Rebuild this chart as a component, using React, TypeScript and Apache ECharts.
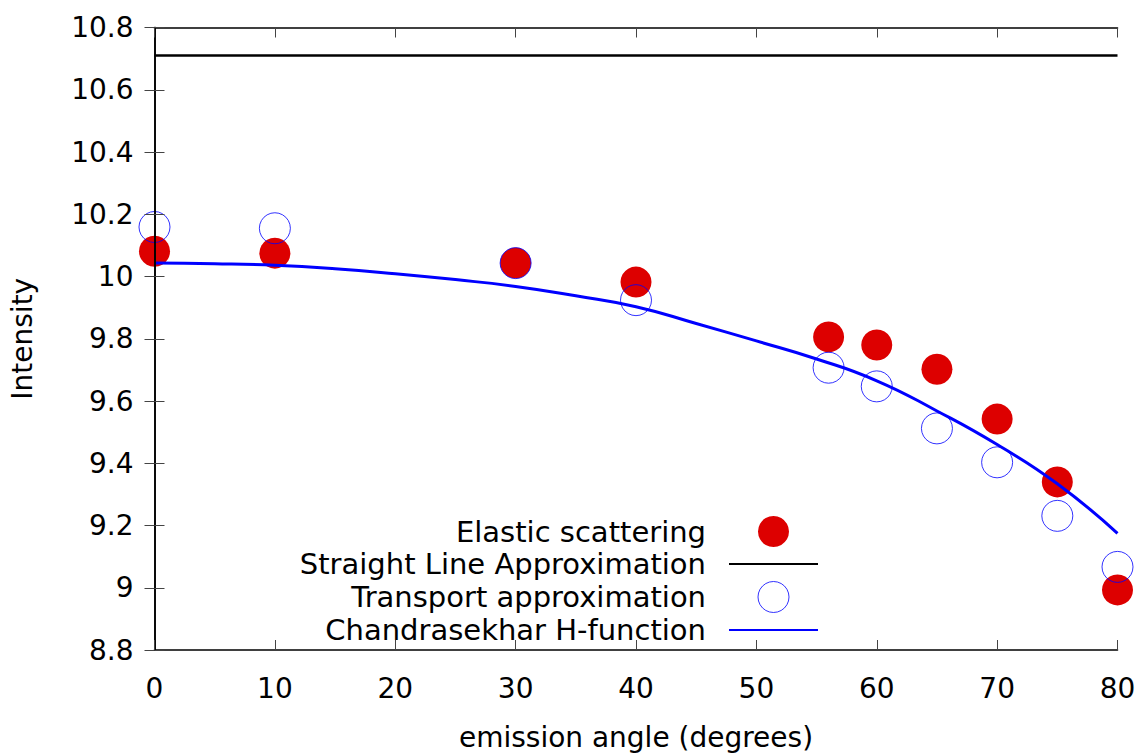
import React, { useEffect, useRef } from "react";
import * as echarts from "echarts";

const angles = [0, 10, 30, 40, 56, 60, 65, 70, 75, 80];
const elastic = [10.081, 10.075, 10.043, 9.982, 9.806, 9.78, 9.702, 9.542, 9.34, 8.993];
const transport = [10.159, 10.155, 10.043, 9.924, 9.707, 9.647, 9.512, 9.403, 9.231, 9.067];
const hAngles = [0, 5, 10, 15, 20, 25, 30, 35, 40, 45, 50, 55, 60, 65, 70, 75, 80];
const hValues = [10.043, 10.041, 10.036, 10.025, 10.009, 9.99, 9.968, 9.938, 9.903, 9.849, 9.793, 9.735, 9.665, 9.568, 9.46, 9.334, 9.175];
const straightX = [0, 80];
const straightValue = 10.71;

const FONT = "DejaVu Sans";

export default function App() {
  const ref = useRef<HTMLDivElement>(null);
  useEffect(() => {
    document.body.style.margin = "0";
    const chart = echarts.init(ref.current!, null, { renderer: "svg" });
    const tickStyle = { color: "#444", width: 1 };
    const axisLine = { show: true, lineStyle: { color: "#000", width: 1.6 } };
    chart.setOption({
      animation: false,
      backgroundColor: "#fff",
      textStyle: { fontFamily: FONT },
      grid: { left: 154.5, right: 25.5, top: 27.5, bottom: 98.5, containLabel: false },
      legend: {
        orient: "vertical",
        align: "right",
        right: 319,
        top: 511,
        itemWidth: 89,
        itemHeight: 31,
        itemGap: 2.5,
        selectedMode: false,
        textStyle: { fontFamily: FONT, fontSize: 29, color: "#000", padding: [0, 18, 0, 0] },
        data: [
          { name: "Elastic scattering" },
          { name: "Straight Line Approximation" },
          { name: "Transport approximation", itemStyle: { borderWidth: 1, borderColor: "#0000ff", color: "rgba(0,0,0,0)" } },
          { name: "Chandrasekhar H-function" },
        ],
      },
      xAxis: [
        {
          type: "value",
          min: 0,
          max: 80,
          interval: 10,
          position: "bottom",
          z: 5,
          axisLine,
          axisTick: { show: true, inside: true, length: 10, lineStyle: tickStyle },
          axisLabel: { fontFamily: FONT, fontSize: 28, color: "#000", margin: 24 },
          splitLine: { show: false },
          name: "emission angle (degrees)",
          nameLocation: "middle",
          nameGap: 73,
          nameTextStyle: { fontFamily: FONT, fontSize: 28, color: "#000" },
        },
        {
          type: "value",
          min: 0,
          max: 80,
          interval: 10,
          position: "top",
          z: 5,
          axisLine,
          axisTick: { show: true, inside: true, length: 10, lineStyle: tickStyle },
          axisLabel: { show: false },
          splitLine: { show: false },
        },
      ],
      yAxis: [
        {
          type: "value",
          min: 8.8,
          max: 10.8,
          interval: 0.2,
          position: "left",
          z: 5,
          axisLine,
          axisTick: { show: true, inside: true, length: 10, lineStyle: tickStyle },
          axisLabel: {
            fontFamily: FONT,
            fontSize: 28,
            color: "#000",
            margin: 21,
            formatter: (v: number) => String(Number(v.toFixed(1))),
          },
          splitLine: { show: false },
          name: "Intensity",
          nameLocation: "middle",
          nameGap: 118,
          nameTextStyle: { fontFamily: FONT, fontSize: 28, color: "#000" },
        },
        {
          type: "value",
          min: 8.8,
          max: 10.8,
          interval: 0.2,
          position: "right",
          z: 5,
          axisLine,
          axisTick: { show: true, inside: true, length: 10, lineStyle: tickStyle },
          axisLabel: { show: false },
          splitLine: { show: false },
        },
      ],
      series: [
        {
          name: "Elastic scattering",
          type: "scatter",
          symbol: "circle",
          symbolSize: 31,
          itemStyle: { color: "#dd0000", opacity: 1 },
          data: angles.map((a, i) => [a, elastic[i]]),
          z: 2,
        },
        {
          name: "Straight Line Approximation",
          type: "line",
          showSymbol: false,
          symbol: "none",
          lineStyle: { color: "#000", width: 2.5 },
          itemStyle: { color: "rgba(0,0,0,0)" },
          data: straightX.map((x) => [x, straightValue]),
          z: 3,
        },
        {
          name: "Transport approximation",
          type: "scatter",
          symbol: "circle",
          symbolSize: 31,
          itemStyle: { color: "rgba(0,0,0,0)", borderColor: "#0000ff", borderWidth: 1 },
          data: angles.map((a, i) => [a, transport[i]]),
          z: 4,
        },
        {
          name: "Chandrasekhar H-function",
          type: "line",
          smooth: true,
          showSymbol: false,
          symbol: "none",
          lineStyle: { color: "#0000ff", width: 3 },
          itemStyle: { color: "rgba(0,0,0,0)" },
          data: hAngles.map((a, i) => [a, hValues[i]]),
          z: 4,
        },
      ],
    });
    return () => chart.dispose();
  }, []);
  return <div ref={ref} style={{ width: 1143, height: 756 }} />;
}
